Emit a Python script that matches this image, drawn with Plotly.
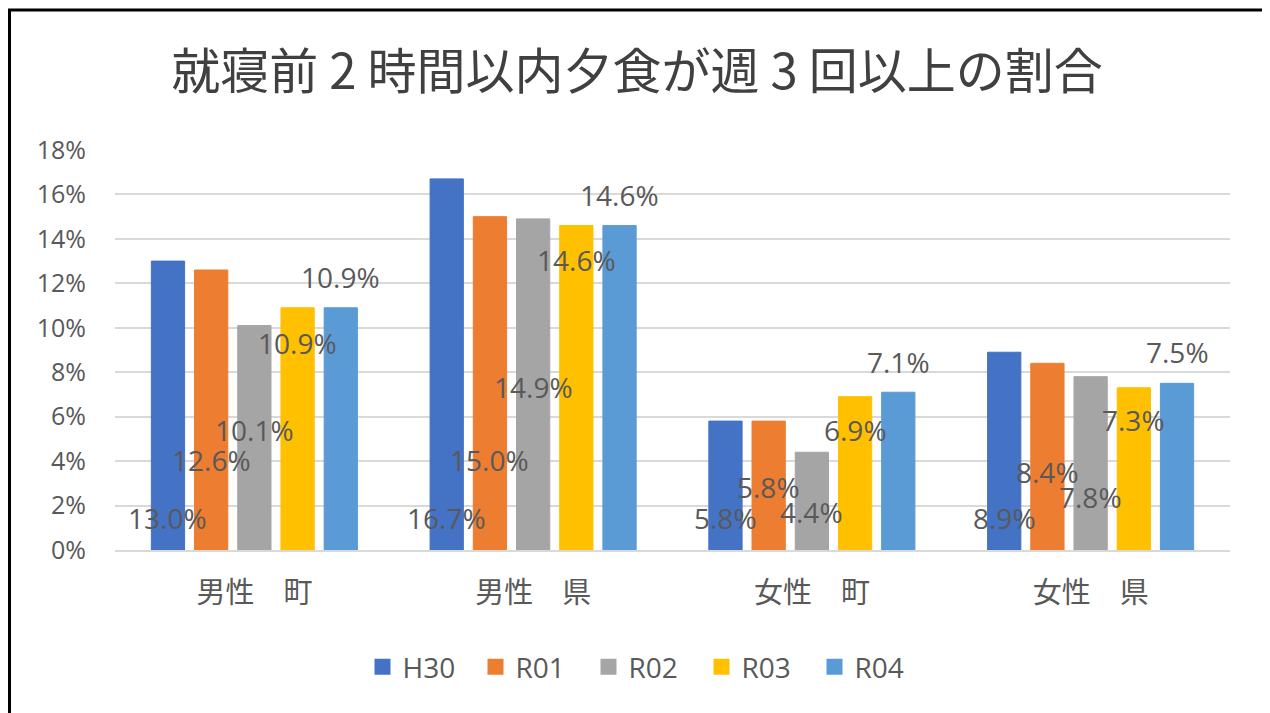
import plotly.graph_objects as go

categories = ["男性　町", "男性　県", "女性　町", "女性　県"]
series_names = ["H30", "R01", "R02", "R03", "R04"]
h30 = [13.0, 16.7, 5.8, 8.9]
r01 = [12.6, 15.0, 5.8, 8.4]
r02 = [10.1, 14.9, 4.4, 7.8]
r03 = [10.9, 14.6, 6.9, 7.3]
r04 = [10.9, 14.6, 7.1, 7.5]
series_values = [h30, r01, r02, r03, r04]
y_ticks = [0, 2, 4, 6, 8, 10, 12, 14, 16, 18]
y_tick_labels = [f"{t}%" for t in y_ticks]

# vertical placement (in axis units) of the data labels as they appear in the source
label_pos = [
    [1.44, 1.44, 1.44, 1.44],
    [4.05, 4.05, 2.84, 3.5],
    [5.4, 7.35, 1.71, 2.4],
    [9.3, 13.05, 5.4, 5.85],
    [12.3, 15.98, 8.46, 8.9],
]

colors = ["#4472C4", "#ED7D31", "#A5A5A5", "#FFC000", "#5B9BD5"]
TXT = "#595959"
NUM_FONT = "Open Sans, Noto Sans, sans-serif"
CJK_FONT = "Noto Sans CJK JP, sans-serif"

# the page body adds an 8px margin; work in screen pixels and shift
OFF = 8
W, H = 1270 - OFF, 713 - OFF
SL, SR, ST, SB = 115, 1230, 150, 550  # plot area in screen pixels
L, R, T, B = SL - OFF, W - (SR - OFF), ST - OFF, H - (SB - OFF)
pw, ph = W - L - R, H - T - B

def px_x(p):
    return (p - SL) / pw

def px_y(p):
    return (SB - p) / ph

fig = go.Figure()
for name, vals, col in zip(series_names, series_values, colors):
    fig.add_trace(go.Bar(
        name=name, x=categories, y=vals, showlegend=False,
        marker=dict(color=col, line=dict(color=col, width=1)),
    ))
# legend entries with larger square keys
for name, col in zip(series_names, colors):
    fig.add_trace(go.Scatter(
        name=name, x=[None], y=[None], mode="markers",
        marker=dict(symbol="square", size=16, color=col),
    ))

bargap = 0.225
n = len(series_names)
slot = (1 - bargap) / n
annotations = []
for j, (vals, lp) in enumerate(zip(series_values, label_pos)):
    for i, (v, yp) in enumerate(zip(vals, lp)):
        annotations.append(dict(
            x=i + (j - (n - 1) / 2) * slot, y=yp, xref="x", yref="y",
            text=f"{v:.1f}%", showarrow=False,
            font=dict(family=NUM_FONT, size=28, color=TXT),
            xanchor="center", yanchor="middle",
        ))

shapes = [
    dict(type="line", xref="paper", yref="paper", x0=px_x(9.5), x1=px_x(9.5), y0=px_y(10), y1=px_y(730),
         line=dict(color="black", width=3)),
    dict(type="line", xref="paper", yref="paper", x0=px_x(1266.5), x1=px_x(1266.5), y0=px_y(10), y1=px_y(730),
         line=dict(color="black", width=3)),
    dict(type="line", xref="paper", yref="paper", x0=px_x(8), x1=px_x(1268), y0=px_y(10), y1=px_y(10),
         line=dict(color="black", width=3)),
]

fig.update_layout(
    width=W, height=H,
    margin=dict(l=L, r=R, t=T, b=B),
    paper_bgcolor="white", plot_bgcolor="white",
    barmode="group", bargap=bargap, bargroupgap=0.23,
    title=dict(text="就寝前 2 時間以内夕食が週 3 回以上の割合", xref="container", yref="container",
               x=(637 - OFF) / W, y=1 - (72 - OFF) / H, xanchor="center", yanchor="middle",
               font=dict(family=CJK_FONT, size=49, color="#404040")),
    xaxis=dict(showgrid=False, showline=True, linecolor="#D9D9D9", linewidth=2,
               tickfont=dict(family=CJK_FONT, size=29, color=TXT), ticks="",
               ticklabelstandoff=16, range=[-0.5, 3.5]),
    yaxis=dict(range=[0, 18], tickvals=y_ticks, ticktext=y_tick_labels,
               showgrid=True, gridcolor="#D9D9D9", gridwidth=2, zeroline=False,
               tickfont=dict(family=NUM_FONT, size=25, color=TXT), ticks="",
               ticklabelstandoff=28, showline=False),
    legend=dict(orientation="h", x=px_x(645), y=px_y(667), xanchor="center", yanchor="middle",
                font=dict(family=NUM_FONT, size=28, color=TXT), bgcolor="rgba(0,0,0,0)",
                traceorder="normal", entrywidth=68, entrywidthmode="pixels"),
    annotations=annotations,
    shapes=shapes,
    showlegend=True,
)

fig.write_html("out.html")
